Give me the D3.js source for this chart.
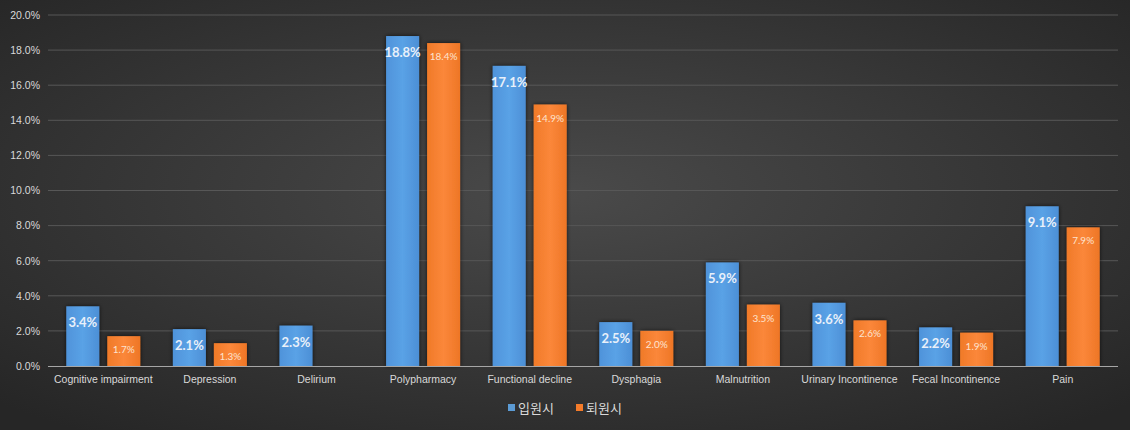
<!DOCTYPE html>
<html><head><meta charset="utf-8">
<script src="https://cdn.jsdelivr.net/npm/d3@7"></script>
<style>body{margin:0;background:#333;}svg{display:block;font-family:Lato,"Noto Sans CJK KR",sans-serif;}</style>
</head><body>
<svg id="c" width="1130" height="430"></svg>
<script>
const categories = ["Cognitive impairment","Depression","Delirium","Polypharmacy","Functional decline","Dysphagia","Malnutrition","Urinary Incontinence","Fecal Incontinence","Pain"];
const admission = [3.4,2.1,2.3,18.8,17.1,2.5,5.9,3.6,2.2,9.1];
const discharge = [1.7,1.3,null,18.4,14.9,2.0,3.5,2.6,1.9,7.9];
const seriesNames = ["입원시","퇴원시"];
const yTicks = [0,2,4,6,8,10,12,14,16,18,20];

const svg = d3.select("#c");
const W=1130,H=430;
const defs = svg.append("defs");
const bg = defs.append("radialGradient").attr("id","bg").attr("cx","50%").attr("cy","45%").attr("r","70%");
bg.append("stop").attr("offset","0%").attr("stop-color","#4a4a4a");
bg.append("stop").attr("offset","100%").attr("stop-color","#262626");
const gb = defs.append("linearGradient").attr("id","gb").attr("x1",0).attr("x2",1);
gb.append("stop").attr("offset","0%").attr("stop-color","#4f93da");
gb.append("stop").attr("offset","50%").attr("stop-color","#5aa2e6");
gb.append("stop").attr("offset","100%").attr("stop-color","#4c8fd6");
const go = defs.append("linearGradient").attr("id","go").attr("x1",0).attr("x2",1);
go.append("stop").attr("offset","0%").attr("stop-color","#f07a28");
go.append("stop").attr("offset","50%").attr("stop-color","#fb873a");
go.append("stop").attr("offset","100%").attr("stop-color","#ee7626");
const f = defs.append("filter").attr("id","sh").attr("x","-30%").attr("y","-30%").attr("width","160%").attr("height","160%");
f.append("feDropShadow").attr("dx",0).attr("dy",0).attr("stdDeviation",2).attr("flood-color","#000").attr("flood-opacity",0.7);

svg.append("rect").attr("width",W).attr("height",H).attr("fill","url(#bg)");

const x0 = d3.scaleBand().domain(categories).range([50,1116]).paddingInner(0).paddingOuter(0);
const y = d3.scaleLinear().domain([0,20]).range([366,15]);

const grid = svg.append("g");
grid.selectAll("line").data(yTicks.slice(1)).join("line")
  .attr("x1",48).attr("x2",1118).attr("y1",d=>y(d)).attr("y2",d=>y(d))
  .attr("stroke","#575757").attr("stroke-width",1);

const yAxis = d3.axisLeft(y).tickValues(yTicks).tickFormat(d=>d.toFixed(1)+"%").tickSize(0).tickPadding(8);
const ya = svg.append("g").attr("transform","translate(48,0)").call(yAxis);
ya.select(".domain").remove();
ya.selectAll("text").attr("fill","#d9d9d9").attr("font-size",10.5);

const bw = 33, gap = 4;
const g = svg.append("g");
categories.forEach((c,i)=>{
  const cx = x0(c)+x0.bandwidth()/2;
  const vals=[admission[i],discharge[i]];
  vals.forEach((v,j)=>{
    if(v==null) return;
    const bx = j===0? cx-gap-bw : cx+gap;
    g.append("rect").attr("x",bx).attr("y",y(v)).attr("width",bw).attr("height",y(0)-y(v))
      .attr("fill",j===0?"url(#gb)":"url(#go)").attr("filter","url(#sh)");
    if(j===0){
      g.append("text").attr("x",bx+bw/2).attr("y",y(v)+21).attr("text-anchor","middle")
       .attr("fill","#e8f0fa").attr("font-size",13).attr("font-weight","bold").text(v.toFixed(1)+"%");
    } else {
      g.append("text").attr("x",bx+bw/2).attr("y",y(v)+17).attr("text-anchor","middle")
       .attr("fill","#fde3cf").attr("font-size",10).text(v.toFixed(1)+"%");
    }
  });
});

svg.append("line").attr("x1",48).attr("x2",1118).attr("y1",y(0)+0.5).attr("y2",y(0)+0.5).attr("stroke","#a6a6a6");

const xAxis = d3.axisBottom(x0).tickSize(0).tickPadding(10);
const xa = svg.append("g").attr("transform",`translate(0,${y(0)})`).call(xAxis);
xa.select(".domain").remove();
xa.selectAll("text").attr("fill","#d9d9d9").attr("font-size",10.5);

const colors=["#5b9bd5","#f47b2a"];
const lg = svg.append("g").attr("transform","translate(508,409)");
const lx=[0,68];
seriesNames.forEach((n,i)=>{
  lg.append("rect").attr("x",lx[i]).attr("y",-5).attr("width",7).attr("height",7).attr("fill",colors[i]);
  lg.append("text").attr("x",lx[i]+10).attr("y",4).attr("fill","#d9d9d9").attr("font-size",13).text(n);
});
</script>
</body></html>
